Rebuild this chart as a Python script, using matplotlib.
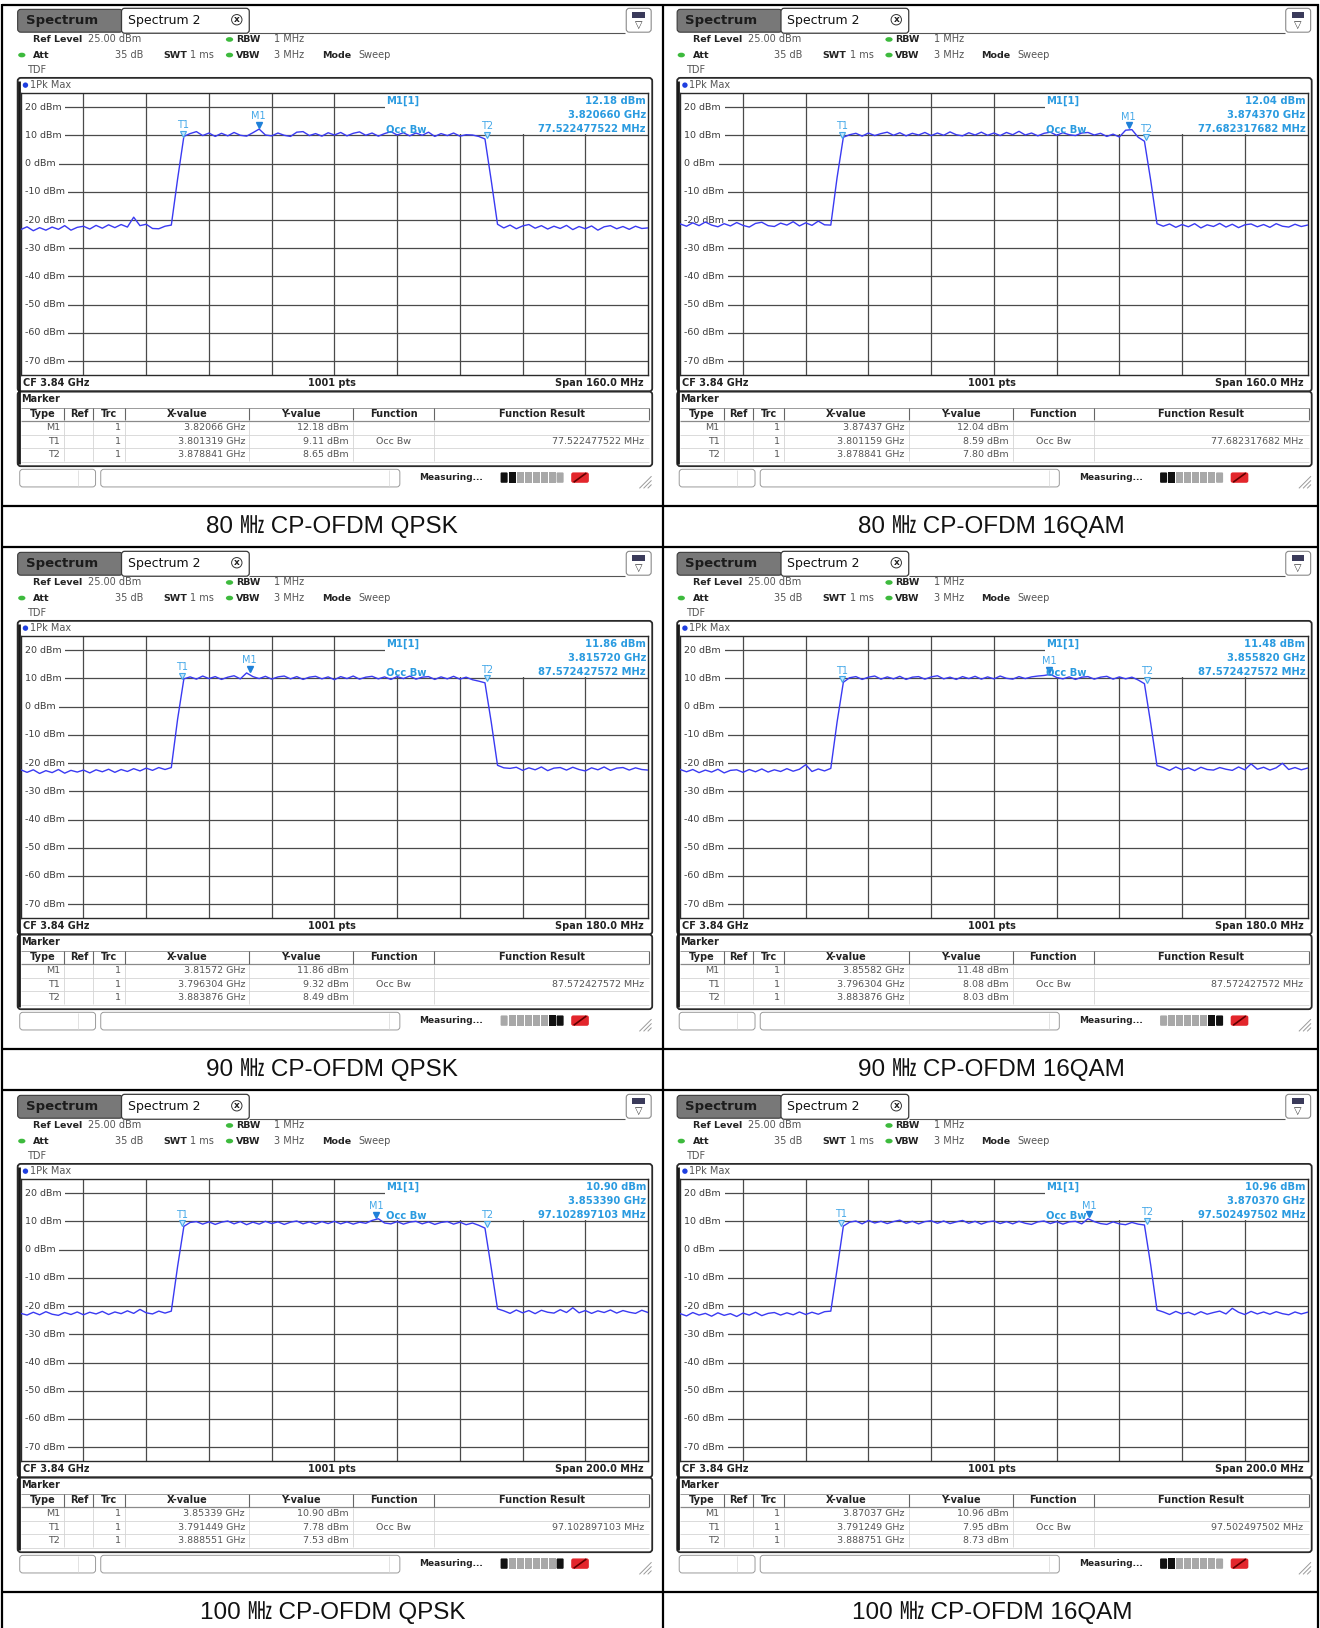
import numpy as np
import matplotlib
matplotlib.use("Agg")
import matplotlib.pyplot as plt
import matplotlib.transforms as mtransforms
from matplotlib.patches import Rectangle, FancyBboxPatch, Ellipse, Circle

# values
captions = [
    "80 ㎒ CP-OFDM QPSK", "80 ㎒ CP-OFDM 16QAM",
    "90 ㎒ CP-OFDM QPSK", "90 ㎒ CP-OFDM 16QAM",
    "100 ㎒ CP-OFDM QPSK", "100 ㎒ CP-OFDM 16QAM",
]
center_ghz = 3.84
span_mhz = [160.0, 160.0, 180.0, 180.0, 200.0, 200.0]
obw_text = ["77.522477522", "77.682317682", "87.572427572",
            "87.572427572", "97.102897103", "97.502497502"]
m1_ghz = [3.82066, 3.87437, 3.81572, 3.85582, 3.85339, 3.87037]
m1_dbm = [12.18, 12.04, 11.86, 11.48, 10.90, 10.96]
t1_ghz = [3.801319, 3.801159, 3.796304, 3.796304, 3.791449, 3.791249]
t1_dbm = [9.11, 8.59, 9.32, 8.08, 7.78, 7.95]
t2_ghz = [3.878841, 3.878841, 3.883876, 3.883876, 3.888551, 3.888751]
t2_dbm = [8.65, 7.80, 8.49, 8.03, 7.53, 8.73]
y_ticks_dbm = [20, 10, 0, -10, -20, -30, -40, -50, -60, -70]

# traces, 101 evenly spaced points across the span (dBm)
trace_a = [
    -23.4, -22.4, -23.8, -22.7, -23.6, -22.5, -23.3, -22.0, -23.6, -22.6,
    -22.2, -23.2, -21.9, -22.9, -21.7, -22.7, -21.6, -22.5, -19.0, -22.0,
    -21.5, -23.0, -23.1, -22.2, -21.8,
    -5.5, 9.6, 10.6, 11.3, 9.9, 10.8, 9.6, 10.7, 9.8, 11.0,
    10.0, 9.7, 10.9, 12.2, 10.1, 9.8, 10.8, 10.0, 9.6, 11.1,
    11.3, 9.9, 10.6, 9.7, 10.9, 10.1, 11.0, 9.8, 10.7, 11.2,
    10.0, 10.8, 9.7, 10.6, 11.3, 10.1, 10.9, 9.8, 10.8, 10.0,
    11.1, 9.6, 10.6, 9.9, 10.8, 9.7, 10.2, 10.1, 9.6, 8.7,
    -6.0, -21.5, -22.8, -21.8, -23.1, -22.1, -21.6, -22.9, -22.0, -23.2,
    -22.2, -23.0, -21.9, -23.4, -22.3, -23.1, -22.1, -23.6, -22.4, -22.0,
    -23.1, -22.3, -23.3, -22.2, -23.0, -22.8,
]
trace_b = [
    -21.4, -22.2, -21.0, -22.0, -20.7, -21.8, -22.4, -21.3, -22.1, -20.9,
    -21.9, -22.5, -21.2, -20.8, -22.0, -22.3, -21.1, -21.8, -20.6, -22.1,
    -21.0, -21.9, -20.4, -21.7, -21.8,
    -5.0, 9.3,
    10.2, 10.7, 9.7, 10.8, 9.9, 10.6, 11.1, 10.0, 10.9, 9.8,
    10.7, 10.1, 11.0, 9.9, 10.8, 10.0, 11.2, 10.2, 9.8, 10.9,
    10.1, 11.1, 10.0, 10.8, 9.9, 11.0, 10.2, 11.4, 10.1, 10.8,
    9.8, 10.7, 11.1, 10.0, 10.9, 10.2, 9.9, 10.8, 11.0, 10.1,
    10.7, 9.6, 10.4, 9.4,
    11.8, 12.0, 9.3, 7.9, -6.0, -21.3,
    -22.2, -21.4, -22.6, -21.6, -22.4, -21.3, -22.8, -21.7, -22.3, -21.2,
    -22.5, -21.5, -22.7, -21.7, -21.4, -22.4, -21.6, -22.6, -21.3, -22.2,
    -22.5, -21.5, -22.3, -21.8,
]
trace_c = [
    -22.4, -23.3, -22.4, -23.7, -22.7, -23.4, -22.3, -23.6, -22.6, -23.2,
    -22.5, -23.5, -22.4, -23.1, -22.2, -23.3, -22.3, -23.0, -22.0, -22.8,
    -21.8, -22.6, -21.6, -22.3, -21.6,
    -4.5, 9.8,
    10.5, 9.7, 10.8, 9.9, 10.6, 9.6, 10.4, 10.9, 9.8, 11.9,
    10.6, 9.9, 10.7, 9.7, 10.5, 10.8, 9.8, 10.6, 9.6, 10.4,
    10.7, 9.8, 10.5, 9.5, 10.6, 9.9, 10.8, 9.7, 10.4, 10.7,
    9.8, 10.5, 9.6, 10.6, 9.9, 10.8, 9.7, 10.4, 10.6, 9.6,
    10.5, 9.8, 10.7, 9.7, 10.4, 9.5, 9.0,
    8.4, -5.5, -20.8,
    -21.7, -21.9, -21.5, -22.6, -21.7, -22.4, -21.4, -22.7, -21.8, -21.6,
    -22.5, -21.5, -22.3, -22.8, -21.7, -22.4, -21.4, -22.6, -21.8, -21.6,
    -22.5, -21.7, -22.3, -22.5,
]
trace_d = [
    -22.3, -23.1, -22.3, -23.4, -22.5, -23.2, -22.2, -23.5, -22.6, -22.4,
    -23.3, -22.3, -23.1, -22.1, -23.2, -22.4, -23.0, -22.0, -22.9, -22.2,
    -20.6, -23.0, -22.1, -22.8, -21.9,
    -5.5, 8.6,
    10.2, 10.6, 9.6, 10.4, 10.8, 9.7, 10.5, 9.8, 10.7, 9.6,
    10.4, 10.6, 9.7, 10.5, 10.9, 9.8, 10.4, 9.6, 10.6, 9.9,
    10.7, 9.7, 10.5, 9.8, 10.8, 10.0, 9.7, 10.6, 9.9, 10.5,
    10.8, 11.0, 11.4, 10.3, 9.8, 10.5, 9.6, 10.4, 10.6, 9.7,
    10.4, 10.7, 9.7, 10.5, 9.8, 10.4, 9.4,
    8.1, -6.0, -20.9,
    -21.6, -22.6, -21.4, -22.4, -21.7, -22.7, -21.5, -22.3, -22.5, -21.6,
    -22.2, -22.6, -21.4, -22.4, -20.3, -22.2, -21.5, -22.5, -21.7, -20.1,
    -22.3, -21.6, -22.4, -21.8,
]
trace_e = [
    -22.6, -23.2, -22.2, -23.1, -22.0, -22.9, -23.3, -22.3, -23.0, -22.1,
    -23.1, -22.2, -22.8, -21.9, -23.0, -22.1, -22.7, -21.7, -22.6, -21.2,
    -22.4, -22.8, -21.8, -22.5, -21.8,
    -6.0, 8.2,
    9.6, 9.9, 9.0, 9.8, 8.9, 9.7, 10.1, 9.1, 9.9, 8.8,
    9.7, 9.0, 10.0, 9.2, 9.8, 8.9, 9.7, 10.1, 9.1, 9.8,
    9.0, 9.9, 9.2, 10.0, 9.1, 9.8, 9.0, 9.7, 9.3, 10.3,
    10.9, 9.4, 9.1, 9.9, 9.0, 9.7, 10.0, 9.1, 9.8, 8.9,
    9.6, 9.9, 9.0, 9.7, 8.8, 9.4, 8.6,
    7.6, -6.5, -21.0,
    -21.7, -22.6, -21.4, -22.4, -21.6, -22.7, -21.5, -22.2, -22.5, -21.3,
    -22.3, -20.6, -22.4, -21.6, -22.6, -21.7, -22.3, -21.4, -22.5, -21.6,
    -22.2, -22.6, -21.5, -22.3,
]
trace_f = [
    -22.7, -23.5, -22.3, -23.2, -22.6, -23.6, -22.4, -23.3, -22.7, -23.7,
    -22.5, -23.2, -22.2, -23.4, -22.6, -22.3, -23.2, -22.4, -23.1, -22.1,
    -23.0, -22.2, -22.9, -22.0, -21.8,
    -7.0, 8.3,
    9.7, 10.1, 9.1, 10.3, 9.4, 10.0, 9.2, 9.9, 10.4, 9.3,
    10.0, 9.1, 9.9, 10.2, 9.3, 10.1, 9.2, 9.8, 10.3, 9.3,
    10.0, 9.0, 9.8, 10.1, 9.2, 9.9, 9.1, 10.0, 9.3, 8.9,
    9.8, 10.1, 9.2, 9.9, 9.0, 9.8, 10.0, 9.1, 10.9, 9.9,
    9.2, 8.9, 9.8, 9.1, 8.8, 9.6, 9.0,
    8.7, -5.5, -21.4,
    -22.1, -23.0, -21.9, -22.8, -22.2, -23.1, -22.0, -22.9, -22.3, -21.8,
    -22.8, -20.8, -22.2, -23.0, -21.9, -22.8, -22.1, -22.9, -22.0, -22.7,
    -23.1, -22.1, -22.8, -22.2,
]
traces = [trace_a, trace_b, trace_c, trace_d, trace_e, trace_f]

# progress bar state in the status line (1 = dark segment)
progress = [[1, 1, 0, 0, 0, 0, 0, 0], [1, 1, 0, 0, 0, 0, 0, 0],
            [0, 0, 0, 0, 0, 0, 1, 1], [0, 0, 0, 0, 0, 0, 1, 1],
            [1, 0, 0, 0, 0, 0, 0, 1], [1, 1, 0, 0, 0, 0, 0, 0]]

# layout works in a 1271 x 1568 coordinate frame (y down)
W, H = 1271.0, 1568.0
col_off = [0, 635]
row_off = [0, 523, 1046]

fig = plt.figure(figsize=(13.2, 16.28), dpi=100)
bg = fig.add_axes([0, 0, 1, 1])
bg.set_xlim(0, W)
bg.set_ylim(H, 0)
bg.axis("off")

TRACE = "#3a3af2"
MARK = "#45a8e8"
READ = "#2a9be0"
DARK = "#222222"
GREY = "#555555"


def box(x0, y0, x1, y1, fc="none", ec="none", lw=0.8, r=0, z=1):
    if r:
        p = FancyBboxPatch((x0, y0), x1 - x0, y1 - y0,
                           boxstyle=f"round,pad=0,rounding_size={r}",
                           fc=fc, ec=ec, lw=lw, zorder=z)
    else:
        p = Rectangle((x0, y0), x1 - x0, y1 - y0, fc=fc, ec=ec, lw=lw, zorder=z)
    bg.add_patch(p)


def txt(x, y, s, size=7.0, bold=False, color=DARK, ha="left", **kw):
    bg.text(x, y, s, fontsize=size, fontweight="bold" if bold else "normal",
            color=color, ha=ha, va="center", **kw)


def hline(x0, x1, y, color=DARK, lw=0.8):
    bg.plot([x0, x1], [y, y], color=color, lw=lw, solid_capstyle="butt")


def vline(x, y0, y1, color=DARK, lw=0.8):
    bg.plot([x, x], [y0, y1], color=color, lw=lw, solid_capstyle="butt")


def green_dot(x, y):
    bg.add_patch(Ellipse((x, y), 7, 4.5, fc="#3dba3d", ec="none", zorder=2))


def draw_panel(k, ox, oy):
    span = span_mhz[k]
    f0 = center_ghz - span / 2000.0
    f1 = center_ghz + span / 2000.0

    # tab bar
    box(ox + 17, oy + 9, ox + 118, oy + 31, fc="#787878", ec="#3a3a3a", lw=0.8, r=3)
    txt(ox + 25, oy + 20, "Spectrum", 9.5, True, "#1c1c1c")
    box(ox + 117, oy + 8, ox + 240, oy + 32, fc="white", ec="#3a3a3a", lw=0.9, r=3, z=2)
    txt(ox + 123, oy + 19.5, "Spectrum 2", 9, False, "#111111", zorder=3)
    bg.add_patch(Circle((ox + 228, oy + 19), 5, fc="white", ec="#333333", lw=0.7, zorder=3))
    txt(ox + 228, oy + 18.6, "x", 6.5, True, "#222222", ha="center", zorder=4)
    hline(ox + 240, ox + 602, oy + 31.5, "#555555", 0.8)
    box(ox + 603, oy + 8, ox + 627, oy + 31, fc="white", ec="#8a8a8a", lw=0.8, r=3)
    box(ox + 609, oy + 12, ox + 621, oy + 17, fc="#3a3a5a", z=2)
    txt(ox + 615, oy + 24, "▽", 7, False, "#333333", ha="center")

    # instrument settings
    txt(ox + 32, oy + 38, "Ref Level", 6.8, True)
    txt(ox + 85, oy + 38, "25.00 dBm", 7, False, GREY)
    green_dot(ox + 221, oy + 38)
    txt(ox + 227, oy + 38, "RBW", 6.8, True)
    txt(ox + 264, oy + 38, "1 MHz", 7, False, GREY)
    green_dot(ox + 21, oy + 53)
    txt(ox + 32, oy + 53, "Att", 6.8, True)
    txt(ox + 138, oy + 53, "35 dB", 7, False, GREY, ha="right")
    txt(ox + 157, oy + 53, "SWT", 6.8, True)
    txt(ox + 183, oy + 53, "1 ms", 7, False, GREY)
    green_dot(ox + 221, oy + 53)
    txt(ox + 227, oy + 53, "VBW", 6.8, True)
    txt(ox + 264, oy + 53, "3 MHz", 7, False, GREY)
    txt(ox + 310, oy + 53, "Mode", 6.8, True)
    txt(ox + 345, oy + 53, "Sweep", 7, False, GREY)
    txt(ox + 26, oy + 67, "TDF", 7, False, GREY)

    # graph frame
    box(ox + 17, oy + 75, ox + 628, oy + 377, ec="#2a2a2a", lw=1.3, r=3)
    vline(ox + 18.2, oy + 78, oy + 447, "#1a1a1a", 2.0)
    bg.add_patch(Circle((ox + 24.5, oy + 82), 2.6, fc="#1f3fe0", ec="none", zorder=2))
    txt(ox + 28.5, oy + 82, "1Pk Max", 7, False, GREY)
    txt(ox + 22, oy + 368.5, "CF 3.84 GHz", 7, True)
    txt(ox + 320, oy + 368.5, "1001 pts", 7, True, ha="center")
    txt(ox + 620, oy + 368.5, f"Span {span:.1f} MHz", 7, True, ha="right")

    # spectrum plot
    px0, px1, py0, py1 = ox + 20, ox + 624, oy + 89.5, oy + 361.5
    ax = fig.add_axes([px0 / W, 1 - py1 / H, (px1 - px0) / W, (py1 - py0) / H])
    ax.set_xlim(f0, f1)
    ax.set_ylim(-75, 25)
    ax.set_xticks(np.linspace(f0, f1, 11)[1:-1])
    ax.set_yticks(y_ticks_dbm)
    ax.tick_params(length=0, labelbottom=False, labelleft=False)
    ax.set_axisbelow(True)
    ax.grid(True, color="#4a4a4a", lw=0.9)
    for sp in ax.spines.values():
        sp.set_color("#2a2a2a")
        sp.set_linewidth(1.0)

    mix = mtransforms.blended_transform_factory(ax.transAxes, ax.transData)

    def ax_x(xd):
        return (xd - px0) / (px1 - px0)

    def ax_y(yd):
        return 1 - (yd - py0) / (py1 - py0)

    for v in y_ticks_dbm:
        ax.text(ax_x(ox + 24), v, f"{v} dBm", transform=mix, fontsize=6.8,
                color="#3c3c3c", ha="left", va="center", zorder=1.5,
                bbox=dict(fc="white", ec="none", pad=2.5))

    # readout box hides the grid in the upper right corner
    ax.add_patch(Rectangle((ax_x(ox + 371), 10.4), 1 - ax_x(ox + 371), 14.6,
                           transform=mix, fc="white", ec="none", zorder=1))

    freqs = np.linspace(f0, f1, len(traces[k]))
    ax.plot(freqs, traces[k], color=TRACE, lw=1.0, zorder=3)

    for name, fq, lv in (("T1", t1_ghz[k], t1_dbm[k]), ("T2", t2_ghz[k], t2_dbm[k])):
        ax.plot(fq, lv + 1.5, marker="v", ms=4.5, mfc="#c4e6fb", mec=MARK,
                mew=0.8, zorder=4)
        ax.text(fq, lv + 4.6, name, color=MARK, fontsize=7, ha="center",
                va="center", zorder=4)
    ax.plot(m1_ghz[k], m1_dbm[k] + 1.5, marker="v", ms=5, color="#1f80d8", zorder=4)
    ax.text(m1_ghz[k], m1_dbm[k] + 4.6, "M1", color=MARK, fontsize=7,
            ha="center", va="center", zorder=4)

    ax.text(ax_x(ox + 372), ax_y(oy + 125), "Occ Bw", transform=ax.transAxes,
            color=READ, fontsize=7.2, fontweight="bold", ha="left", va="center", zorder=5)
    ax.text(ax_x(ox + 372), ax_y(oy + 97), "M1[1]", transform=ax.transAxes,
            color=READ, fontsize=7.2, fontweight="bold", ha="left", va="center", zorder=5)
    readout = [f"{m1_dbm[k]:.2f} dBm", f"{m1_ghz[k]:.6f} GHz", f"{obw_text[k]} MHz"]
    for s, yd in zip(readout, (97, 110.5, 124)):
        ax.text(ax_x(ox + 622), ax_y(oy + yd), s, transform=ax.transAxes,
                color=READ, fontsize=7.2, fontweight="bold", ha="right",
                va="center", zorder=5)

    # marker table
    box(ox + 17, oy + 377, ox + 628, oy + 449, ec="#2a2a2a", lw=1.3, r=3)
    txt(ox + 20, oy + 384.5, "Marker", 7, True)
    cols = [20, 62, 90, 120, 240, 340, 418, 625]
    hline(ox + 20, ox + 625, oy + 392.5, "#9a9a9a", 0.7)
    hline(ox + 20, ox + 625, oy + 405.5, "#8a8a8a", 0.9)
    hline(ox + 20, ox + 625, oy + 418.5, "#d4d4d4", 0.6)
    hline(ox + 20, ox + 625, oy + 431.5, "#d4d4d4", 0.6)
    hline(ox + 20, ox + 625, oy + 444.5, "#d4d4d4", 0.6)
    for c in cols[1:-1]:
        vline(ox + c, oy + 393, oy + 405, "#666666", 0.8)
        vline(ox + c, oy + 406, oy + 444, "#d4d4d4", 0.6)
    vline(ox + 625, oy + 393, oy + 405, "#666666", 0.8)
    heads = ["Type", "Ref", "Trc", "X-value", "Y-value", "Function", "Function Result"]
    for h, a, b in zip(heads, cols[:-1], cols[1:]):
        txt(ox + (a + b) / 2, oy + 399, h, 7, True, ha="center")
    rows = [
        ("M1", f"{m1_ghz[k]:.5f} GHz", f"{m1_dbm[k]:.2f} dBm", "", ""),
        ("T1", f"{t1_ghz[k]:.6f} GHz", f"{t1_dbm[k]:.2f} dBm", "Occ Bw", f"{obw_text[k]} MHz"),
        ("T2", f"{t2_ghz[k]:.6f} GHz", f"{t2_dbm[k]:.2f} dBm", "", ""),
    ]
    for i, (typ, xv, yv, fn, res) in enumerate(rows):
        yy = oy + 412 + 13 * i
        txt(ox + 58, yy, typ, 6.8, False, GREY, ha="right")
        txt(ox + 116, yy, "1", 6.8, False, GREY, ha="right")
        txt(ox + 236, yy, xv, 6.8, False, GREY, ha="right")
        txt(ox + 336, yy, yv, 6.8, False, GREY, ha="right")
        if fn:
            txt(ox + 379, yy, fn, 6.8, False, GREY, ha="center")
            txt(ox + 620, yy, res, 6.8, False, GREY, ha="right")

    # status line
    box(ox + 19, oy + 452, ox + 92, oy + 469, ec="#9a9a9a", lw=0.7, r=3)
    vline(ox + 75, oy + 453, oy + 468, "#dddddd", 0.6)
    box(ox + 97, oy + 452, ox + 385, oy + 469, ec="#9a9a9a", lw=0.7, r=3)
    vline(ox + 375, oy + 453, oy + 468, "#dddddd", 0.6)
    txt(ox + 404, oy + 460, "Measuring...", 6.5, True)
    for j, on in enumerate(progress[k]):
        box(ox + 482 + j * 7.7, oy + 455, ox + 488.8 + j * 7.7, oy + 465,
            fc="#111111" if on else "#a8a8a8", r=1 if j in (0, 7) else 0)
    box(ox + 550, oy + 455, ox + 567, oy + 465, fc="#e3262c", r=2)
    bg.plot([ox + 553, ox + 564], [oy + 464, oy + 456], color="#600000", lw=1.2)
    for d in (0, 4, 8):
        bg.plot([ox + 616 + d, ox + 627], [oy + 470, oy + 459 + d], color="#9a9a9a", lw=0.7)

    # caption under the screenshot
    bg.text(ox + 320, oy + 507, captions[k], fontsize=17.5,
            family=["Liberation Sans", "Noto Sans CJK KR"],
            ha="center", va="center", color="#111111")


for r, oy in enumerate(row_off):
    for c, ox in enumerate(col_off):
        draw_panel(2 * r + c, ox, oy)

# outer table rules
for x in (2, 638.3, 1269.5):
    vline(x, 4, H, "black", 1.6)
hline(2, 1270, 4.5, "black", 1.6)
for oy in row_off:
    hline(2, 1270, oy + 487, "black", 1.6)
    if oy + 527 < H:
        hline(2, 1270, oy + 527, "black", 1.6)

fig.savefig("out.png", dpi=100)
